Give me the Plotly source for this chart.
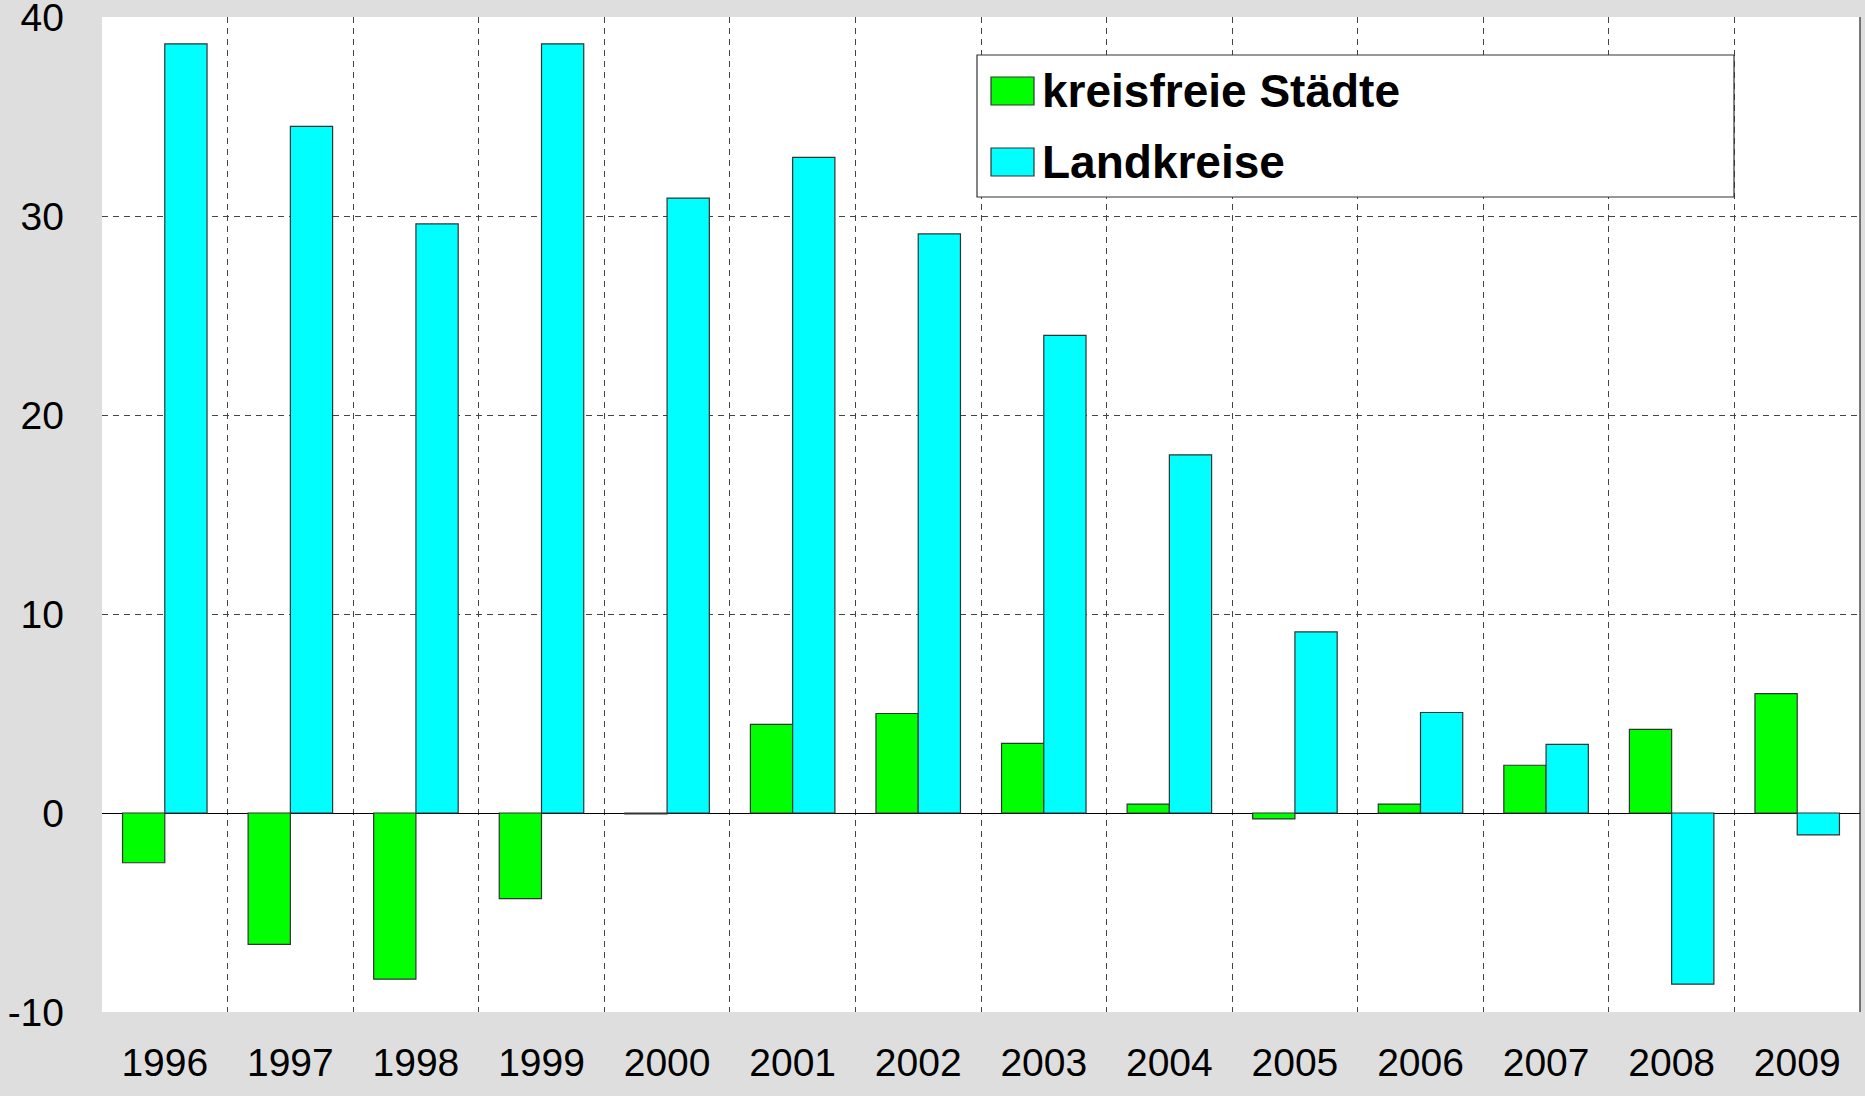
import plotly.graph_objects as go

years = ["1996", "1997", "1998", "1999", "2000", "2001", "2002",
         "2003", "2004", "2005", "2006", "2007", "2008", "2009"]
kreisfreie = [-2.5, -6.6, -8.35, -4.3, -0.05, 4.45, 5.0,
              3.5, 0.45, -0.3, 0.45, 2.4, 4.2, 6.0]
landkreise = [38.65, 34.5, 29.6, 38.65, 30.9, 32.95, 29.1,
              24.0, 18.0, 9.1, 5.05, 3.45, -8.6, -1.1]
series_names = ["kreisfreie Städte", "Landkreise"]
series_colors = ["#00ff00", "#00ffff"]
y_ticks = [-10, 0, 10, 20, 30, 40]
y_ticktext = ["-10", "0", "10", "20", "30", "40"]

fig = go.Figure()
for name, vals, col in zip(series_names, [kreisfreie, landkreise], series_colors):
    fig.add_trace(go.Bar(
        x=years, y=vals, name=name,
        marker=dict(color=col, line=dict(color="#333333", width=1.2)),
        showlegend=False,
    ))

W, H = 1865, 1096
L, R, T, B = 102, 1860, 17, 1012
PW, PH = R - L, B - T

def px(x):
    return (x - L) / PW

def py(y):
    return (B - y) / PH

shapes = []
# solid right frame edge
shapes.append(dict(type="line", xref="paper", yref="paper", x0=1, x1=1, y0=0, y1=1,
                   line=dict(color="#222222", width=1.2), layer="above"))
# legend box
shapes.append(dict(type="rect", xref="paper", yref="paper",
                   x0=px(977), x1=px(1734), y0=py(197), y1=py(55),
                   fillcolor="white", line=dict(color="#333333", width=1.2),
                   layer="above"))
sw = [(77, 105), (148, 176)]
ann = []
for (y0, y1), name, col in zip(sw, series_names, series_colors):
    shapes.append(dict(type="rect", xref="paper", yref="paper",
                       x0=px(991), x1=px(1034), y0=py(y1), y1=py(y0),
                       fillcolor=col, line=dict(color="#333333", width=1.2),
                       layer="above"))
    ann.append(dict(xref="paper", yref="paper", x=px(1040), y=py((y0 + y1) / 2),
                    xanchor="left", yanchor="middle", showarrow=False,
                    text="<b>" + name + "</b>",
                    font=dict(family="Liberation Sans, Arial", size=46, color="black")))

fig.update_layout(
    width=W, height=H,
    margin=dict(l=L, r=W - R, t=T, b=H - B, pad=0, autoexpand=False),
    paper_bgcolor="#dedede",
    plot_bgcolor="white",
    barmode="group",
    bargap=0.327,
    bargroupgap=0,
    font=dict(family="Liberation Sans, Arial", size=39, color="black"),
    shapes=shapes,
    annotations=ann,
    showlegend=False,
)
fig.update_xaxes(
    type="category", tickson="boundaries", automargin=False,
    showgrid=True, gridcolor="#444444", gridwidth=1, griddash="6px,5px",
    showline=False,
    ticks="", ticklabelstandoff=24, ticklabeloverflow="allow",
    tickfont=dict(size=39),
)
fig.update_yaxes(
    range=[-10, 40], tickvals=y_ticks, ticktext=y_ticktext, automargin=False,
    showgrid=True, gridcolor="#444444", gridwidth=1, griddash="6px,5px",
    zeroline=True, zerolinecolor="black", zerolinewidth=1.2,
    showline=False,
    ticks="", ticklabelstandoff=37, ticklabeloverflow="allow",
    tickfont=dict(size=39),
)

fig.write_html("out.html", config={"displayModeBar": False},
               post_script="document.body.style.margin='0';document.body.style.overflow='hidden';")
